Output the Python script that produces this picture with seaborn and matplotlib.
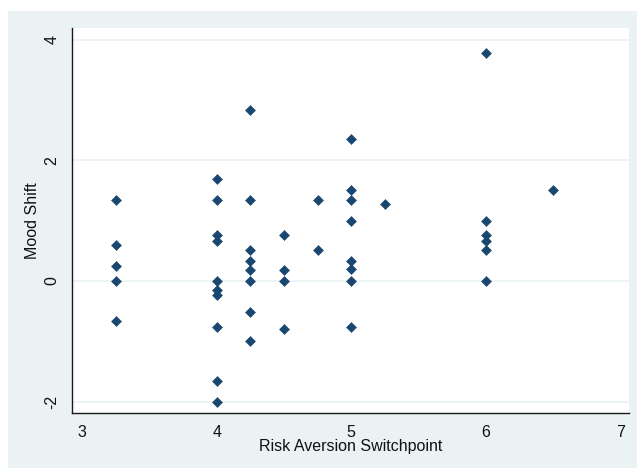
import matplotlib
matplotlib.use("Agg")
import matplotlib.pyplot as plt
import seaborn as sns
import pandas as pd
from matplotlib.patches import Rectangle

## Data
switchpoint = [3.25, 3.25, 3.25, 3.25, 3.25,
               4, 4, 4, 4, 4, 4, 4, 4, 4, 4,
               4.25, 4.25, 4.25, 4.25, 4.25, 4.25, 4.25, 4.25,
               4.5, 4.5, 4.5, 4.5,
               4.75, 4.75,
               5, 5, 5, 5, 5, 5, 5, 5,
               5.25,
               6, 6, 6, 6, 6, 6,
               6.5]
mood_shift = [1.35, 0.6, 0.25, 0, -0.66,
              1.69, 1.35, 0.76, 0.67, 0, -0.15, -0.24, -0.76, -1.66, -2.0,
              2.84, 1.35, 0.51, 0.34, 0.19, 0, -0.51, -1.0,
              0.76, 0.18, 0, -0.8,
              1.35, 0.51,
              2.35, 1.51, 1.35, 1.0, 0.34, 0.2, 0, -0.76,
              1.27,
              3.78, 1.0, 0.76, 0.67, 0.51, 0,
              1.51]
x_ticks = [3, 4, 5, 6, 7]
y_ticks = [-2, 0, 2, 4]

df = pd.DataFrame({"switchpoint": switchpoint, "mood": mood_shift})

sns.set_style("white")
plt.rcParams["font.family"] = ["Liberation Sans", "DejaVu Sans"]

W, H = 637, 468
bg = "#eaf2f3"
navy = "#1a476f"
fs = 11.5

fig = plt.figure(figsize=(W / 100, H / 100), dpi=100, facecolor="white")
# outer stata-like panel, kept behind the axes
fig.patches.append(Rectangle((8 / W, 0), 1 - 8 / W, 1 - 11 / H,
                             transform=fig.transFigure, facecolor=bg,
                             edgecolor="none", zorder=-10))

ax = fig.add_axes([72 / W, 1 - 412.7 / H, (629 - 72) / W, (412.7 - 28) / H])
ax.set_facecolor("white")

sns.scatterplot(data=df, x="switchpoint", y="mood", marker="D", s=26,
                color=navy, edgecolor=navy, linewidth=0.4, ax=ax, zorder=3)

ax.set_xlim(2.926, 7.062)
ax.set_ylim(-2.184, 4.196)
ax.set_xticks(x_ticks)
ax.set_yticks(y_ticks)
ax.set_yticklabels([str(v) for v in y_ticks], rotation=90, va="center")

for y in y_ticks:
    ax.axhline(y, color=bg, lw=1.2, zorder=1)

for s in ["top", "right"]:
    ax.spines[s].set_visible(False)
for s in ["left", "bottom"]:
    ax.spines[s].set_color("#1a1a1a")
    ax.spines[s].set_linewidth(1.0)

ax.tick_params(axis="both", direction="out", length=4, width=1, color="#1a1a1a",
               labelsize=fs, labelcolor="#111111", pad=5)
ax.tick_params(axis="x", pad=5)

ax.set_xlabel("Risk Aversion Switchpoint", fontsize=fs, color="#111111", labelpad=-1)
ax.set_ylabel("Mood Shift", fontsize=fs, color="#111111", labelpad=3)

fig.savefig("out.png", dpi=100, facecolor=fig.get_facecolor())
